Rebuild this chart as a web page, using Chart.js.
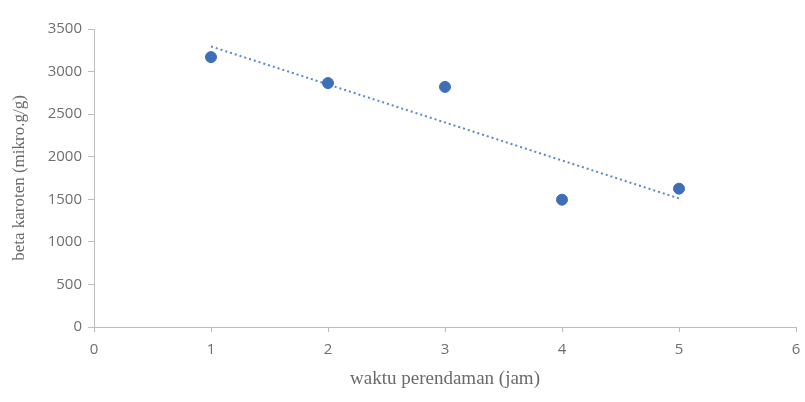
<!DOCTYPE html>
<html>
<head>
<meta charset="utf-8">
<script src="https://cdn.jsdelivr.net/npm/chart.js@4"></script>
<style>
  html, body { margin: 0; padding: 0; background: #fff; }
  #wrap { width: 805px; height: 402px; }
</style>
</head>
<body>
<div id="wrap"><canvas id="chart" width="805" height="402"></canvas></div>
<script>
// data
const hours = [1, 2, 3, 4, 5];
const betaKaroten = [3170, 2865, 2820, 1495, 1625];
// linear trend line end points
const trendHours = [1, 5];
const trendValues = [3295, 1510];
const yTicks = [0, 500, 1000, 1500, 2000, 2500, 3000, 3500];
const xTicks = [0, 1, 2, 3, 4, 5, 6];

const tickColor = '#6f6f6f';
const axisColor = '#bdbdbd';

const ctx = document.getElementById('chart').getContext('2d');
new Chart(ctx, {
    type: 'scatter',
    data: {
        datasets: [{
            label: 'beta karoten',
            data: hours.map((h, i) => ({ x: h, y: betaKaroten[i] })),
            backgroundColor: '#3d6eb8',
            borderColor: '#3d6eb8',
            pointRadius: 5.5,
            pointHoverRadius: 5.5
        }, {
            label: 'trend',
            type: 'line',
            data: trendHours.map((h, i) => ({ x: h, y: trendValues[i] })),
            borderColor: '#5a88c8',
            borderWidth: 2,
            borderDash: [2, 3],
            pointRadius: 0,
            fill: false
        }]
    },
    options: {
        responsive: false,
        animation: false,
        layout: { padding: { top: 29, right: 9, bottom: 12, left: 9 } },
        plugins: {
            legend: { display: false },
            tooltip: { enabled: false }
        },
        scales: {
            x: {
                type: 'linear',
                min: 0,
                max: 6,
                afterBuildTicks: (scale) => { scale.ticks = xTicks.map(v => ({ value: v })); },
                grid: {
                    display: true,
                    drawOnChartArea: false,
                    drawTicks: true,
                    tickLength: 5,
                    color: axisColor
                },
                border: { color: axisColor, width: 1 },
                ticks: {
                    color: tickColor,
                    font: { family: 'Open Sans', size: 15 },
                    padding: 9,
                    callback: (v) => String(v)
                },
                title: {
                    display: true,
                    text: 'waktu perendaman (jam)',
                    color: '#6a6a6a',
                    font: { family: 'Liberation Serif', size: 19 },
                    padding: { top: 4, bottom: 0 }
                },
                afterFit: (scale) => {
                    scale.height = 63;
                    scale.paddingLeft = 0;
                    scale.paddingRight = 0;
                }
            },
            y: {
                min: 0,
                max: 3500,
                afterBuildTicks: (scale) => { scale.ticks = yTicks.map(v => ({ value: v })); },
                grid: {
                    display: true,
                    drawOnChartArea: false,
                    drawTicks: true,
                    tickLength: 6,
                    color: axisColor
                },
                border: { color: axisColor, width: 1 },
                ticks: {
                    color: tickColor,
                    font: { family: 'Open Sans', size: 15 },
                    padding: 6,
                    callback: (v) => String(v)
                },
                title: {
                    display: true,
                    text: 'beta karoten (mikro.g/g)',
                    color: '#6a6a6a',
                    font: { family: 'Liberation Serif', size: 17 },
                    padding: { top: 0, bottom: 6 }
                },
                afterFit: (scale) => {
                    scale.width = 85;
                    scale.paddingTop = 0;
                    scale.paddingBottom = 0;
                }
            }
        }
    }
});
</script>
</body>
</html>
